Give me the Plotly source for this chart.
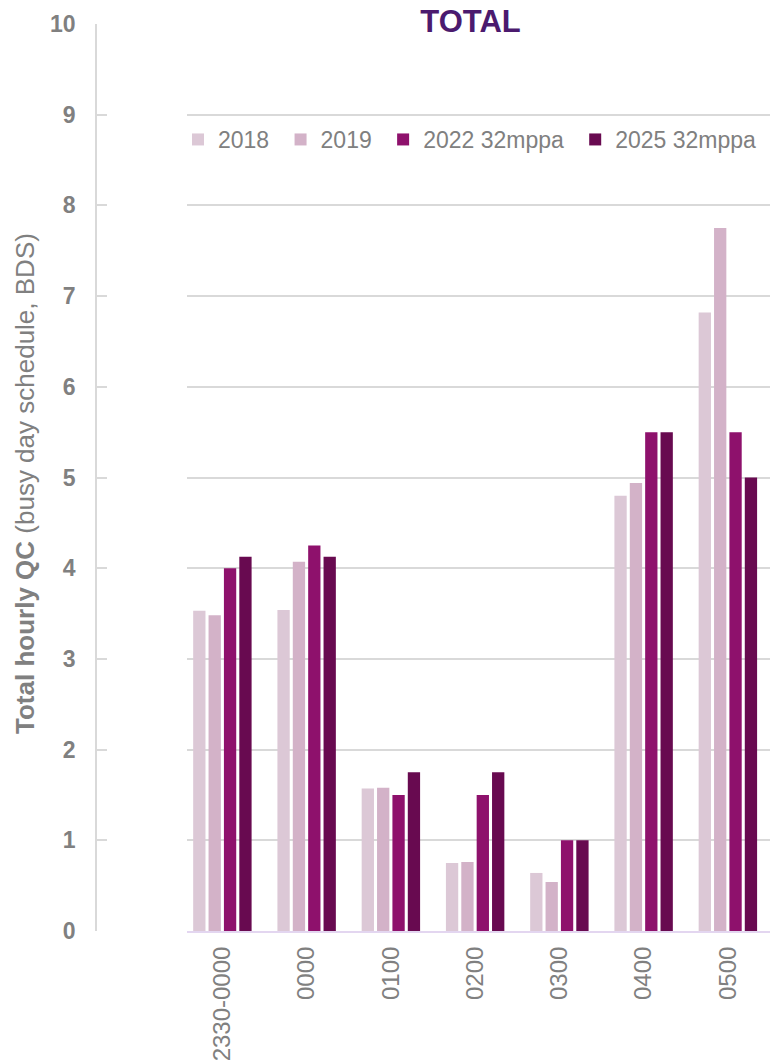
import plotly.graph_objects as go

categories = ["2330-0000", "0000", "0100", "0200", "0300", "0400", "0500"]
series_names = ["2018", "2019", "2022 32mppa", "2025 32mppa"]
v2018 = [3.53, 3.54, 1.57, 0.75, 0.64, 4.80, 6.82]
v2019 = [3.48, 4.07, 1.58, 0.76, 0.54, 4.94, 7.75]
v2022 = [4.00, 4.25, 1.50, 1.50, 1.00, 5.50, 5.50]
v2025 = [4.125, 4.125, 1.75, 1.75, 1.00, 5.50, 5.00]
y_ticks = [0, 1, 2, 3, 4, 5, 6, 7, 8, 9, 10]

colors = ["#dcc8d6", "#d3b2c8", "#8e116c", "#680a50"]
FONT = "Arial, Liberation Sans, sans-serif"
GRAY = "#808080"

W, H = 773, 1064
ML, MR, MT, MB = 96, 3, 24, 133
PW = W - ML - MR
PH = H - MT - MB

fig = go.Figure()
for name, vals, c in zip(series_names, [v2018, v2019, v2022, v2025], colors):
    fig.add_trace(go.Bar(x=list(range(len(categories))), y=vals, name=name + "\u00a0",
                         marker=dict(color=c, line=dict(width=0))))

fig.update_layout(
    width=W, height=H,
    margin=dict(l=ML, r=MR, t=MT, b=MB, pad=0),
    paper_bgcolor="white", plot_bgcolor="white",
    barmode="group", bargap=0.27, bargroupgap=0.2,
    font=dict(family=FONT, color=GRAY),
    showlegend=True,
    legend=dict(orientation="h", x=(178 - ML) / PW, xanchor="left",
                y=(931.5 - 140) / PH, yanchor="middle",
                font=dict(size=23, color=GRAY, family=FONT),
                bgcolor="rgba(0,0,0,0)"),
    xaxis=dict(domain=[(187 - ML) / PW, 1], range=[-0.42, 6.5],
               tickmode="array", tickvals=list(range(len(categories))), ticktext=categories,
               tickangle=-90, tickfont=dict(size=24, color=GRAY, family=FONT),
               ticklabelstandoff=4,
               showline=True, linecolor="#e3d6f0", linewidth=2,
               showgrid=False, zeroline=False, ticks=""),
    yaxis=dict(anchor="free", position=0, range=[0, 10],
               tickmode="array", tickvals=y_ticks, ticktext=[f"<b>{t}</b>" for t in y_ticks],
               tickfont=dict(size=23, color=GRAY, family=FONT),
               showline=True, linecolor="#d9d9d9", linewidth=1.5,
               ticks="inside", ticklen=10, tickcolor="#d9d9d9", tickwidth=1.5,
               ticklabelstandoff=15,
               showgrid=True, gridcolor="#d9d9d9", gridwidth=1.5, zeroline=False),
)

fig.add_annotation(text="<b>TOTAL</b>", xref="paper", yref="paper",
                   x=(471 - ML) / PW, y=1 + (24.5 - 22) / PH, xanchor="center", yanchor="middle",
                   showarrow=False, bgcolor="white", width=145,
                   font=dict(size=31, color="#4b1a6e", family=FONT))

fig.add_annotation(text="<b>Total hourly QC</b> (busy day schedule, BDS)",
                   xref="paper", yref="paper", x=(25 - ML) / PW, y=(931.5 - 484.5) / PH,
                   xanchor="center", yanchor="middle", textangle=-90, showarrow=False,
                   font=dict(size=26, color=GRAY, family=FONT))

fig.write_html("out.html")
